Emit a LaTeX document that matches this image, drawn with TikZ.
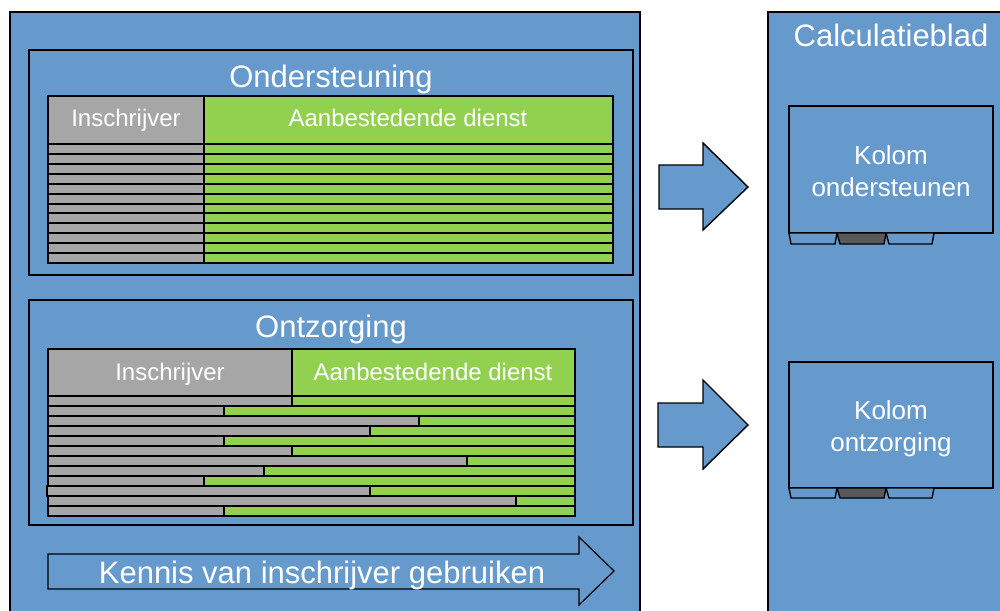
\documentclass[tikz,border=0pt]{standalone}
\usepackage{fontspec}
\setmainfont{Liberation Sans}
\usepackage{tikz}

\definecolor{vakblauw}{HTML}{6699CC}
\definecolor{vakgrijs}{HTML}{A6A6A6}
\definecolor{vakgroen}{HTML}{92D050}
\definecolor{tabgrijs}{HTML}{595959}

\tikzset{
  kader/.style={fill=vakblauw,draw=black,line width=1.4pt},
  cel/.style={draw=black,line width=1.25pt},
  titel/.style={text=white,font=\fontsize{31}{36}\selectfont,anchor=base},
  kop/.style={text=white,font=\fontsize{24}{28}\selectfont,anchor=base},
  kolom/.style={text=white,font=\fontsize{26}{32}\selectfont,anchor=base}
}

\begin{document}
\begin{tikzpicture}[x=1pt,y=-1pt]
\useasboundingbox (0,0) rectangle (1000,610);

\filldraw[kader] (10,12) rectangle (640,625);
\filldraw[kader] (768,12) rectangle (1010,625);

\filldraw[kader] (29,50) rectangle (633,275);
\filldraw[kader] (29,300) rectangle (633,525);

\node[titel] (ond) at (331,87) {Ondersteuning};
\node[titel] (ontz) at (331,337) {Ontzorging};
\node[titel] (calc) at (891,47) {Calculatieblad};

% tabel ondersteuning
\filldraw[cel,fill=vakgrijs] (48,96) rectangle (204,144);
\filldraw[cel,fill=vakgroen] (204,96) rectangle (613,144);
\node[kop] (ins1) at (126,126) {Inschrijver};
\node[kop] (aan1) at (408,126) {Aanbestedende dienst};

\filldraw[cel,fill=vakgrijs] (48,144) rectangle (204,154);
\filldraw[cel,fill=vakgroen] (204,144) rectangle (613,154);
\filldraw[cel,fill=vakgrijs] (48,154) rectangle (204,164);
\filldraw[cel,fill=vakgroen] (204,154) rectangle (613,164);
\filldraw[cel,fill=vakgrijs] (48,164) rectangle (204,174);
\filldraw[cel,fill=vakgroen] (204,164) rectangle (613,174);
\filldraw[cel,fill=vakgrijs] (48,174) rectangle (204,184);
\filldraw[cel,fill=vakgroen] (204,174) rectangle (613,184);
\filldraw[cel,fill=vakgrijs] (48,184) rectangle (204,194);
\filldraw[cel,fill=vakgroen] (204,184) rectangle (613,194);
\filldraw[cel,fill=vakgrijs] (48,194) rectangle (204,204);
\filldraw[cel,fill=vakgroen] (204,194) rectangle (613,204);
\filldraw[cel,fill=vakgrijs] (48,204) rectangle (204,213);
\filldraw[cel,fill=vakgroen] (204,204) rectangle (613,213);
\filldraw[cel,fill=vakgrijs] (48,213) rectangle (204,223);
\filldraw[cel,fill=vakgroen] (204,213) rectangle (613,223);
\filldraw[cel,fill=vakgrijs] (48,223) rectangle (204,233);
\filldraw[cel,fill=vakgroen] (204,223) rectangle (613,233);
\filldraw[cel,fill=vakgrijs] (48,233) rectangle (204,243);
\filldraw[cel,fill=vakgroen] (204,233) rectangle (613,243);
\filldraw[cel,fill=vakgrijs] (48,243) rectangle (204,253);
\filldraw[cel,fill=vakgroen] (204,243) rectangle (613,253);
\filldraw[cel,fill=vakgrijs] (48,253) rectangle (204,263);
\filldraw[cel,fill=vakgroen] (204,253) rectangle (613,263);

% tabel ontzorging
\filldraw[cel,fill=vakgrijs] (48,349) rectangle (292,396);
\filldraw[cel,fill=vakgroen] (292,349) rectangle (575,396);
\node[kop] (ins2) at (170,380) {Inschrijver};
\node[kop] (aan2) at (433,380) {Aanbestedende dienst};

\filldraw[cel,fill=vakgrijs] (48,396) rectangle (292,406);
\filldraw[cel,fill=vakgroen] (292,396) rectangle (575,406);
\filldraw[cel,fill=vakgrijs] (48,406) rectangle (224,416);
\filldraw[cel,fill=vakgroen] (224,406) rectangle (575,416);
\filldraw[cel,fill=vakgrijs] (48,416) rectangle (419,426);
\filldraw[cel,fill=vakgroen] (419,416) rectangle (575,426);
\filldraw[cel,fill=vakgrijs] (48,426) rectangle (370,436);
\filldraw[cel,fill=vakgroen] (370,426) rectangle (575,436);
\filldraw[cel,fill=vakgrijs] (48,436) rectangle (224,446);
\filldraw[cel,fill=vakgroen] (224,436) rectangle (575,446);
\filldraw[cel,fill=vakgrijs] (48,446) rectangle (292,456);
\filldraw[cel,fill=vakgroen] (292,446) rectangle (575,456);
\filldraw[cel,fill=vakgrijs] (48,456) rectangle (467,466);
\filldraw[cel,fill=vakgroen] (467,456) rectangle (575,466);
\filldraw[cel,fill=vakgrijs] (48,466) rectangle (264,476);
\filldraw[cel,fill=vakgroen] (264,466) rectangle (575,476);
\filldraw[cel,fill=vakgrijs] (48,476) rectangle (204,486);
\filldraw[cel,fill=vakgroen] (204,476) rectangle (575,486);
\filldraw[cel,fill=vakgrijs] (47,486) rectangle (370,496);
\filldraw[cel,fill=vakgroen] (370,486) rectangle (575,496);
\filldraw[cel,fill=vakgrijs] (48,496) rectangle (516,506);
\filldraw[cel,fill=vakgroen] (516,496) rectangle (575,506);
\filldraw[cel,fill=vakgrijs] (48,506) rectangle (224,516);
\filldraw[cel,fill=vakgroen] (224,506) rectangle (575,516);

% pijl onderaan
\filldraw[kader,line width=1.2pt] (48,554) -- (579,554) -- (579,537) -- (614,571) -- (579,605) -- (579,589) -- (48,589) -- cycle;
\node[titel] (kennis) at (322,583) {Kennis van inschrijver gebruiken};

% pijlen naar calculatieblad
\filldraw[kader] (659,165) -- (703,165) -- (703,143) -- (748,187) -- (703,230) -- (703,209) -- (659,209) -- cycle;
\filldraw[kader] (658,403) -- (703,403) -- (703,380) -- (748,425) -- (703,469) -- (703,447) -- (658,447) -- cycle;

% kolommen
\filldraw[kader] (789,106) rectangle (993,233);
\filldraw[kader] (789,233) -- (837,233) -- (835,244) -- (791,244) -- cycle;
\filldraw[kader,fill=tabgrijs] (837,233) -- (886,233) -- (884,244) -- (840,244) -- cycle;
\filldraw[kader] (886,233) -- (934,233) -- (932,244) -- (889,244) -- cycle;
\node[kolom] (kol1a) at (891,164) {Kolom};
\node[kolom] (kol1b) at (891,196) {ondersteunen};

\filldraw[kader] (789,362) rectangle (993,488);
\filldraw[kader] (789,488) -- (837,488) -- (835,498) -- (791,498) -- cycle;
\filldraw[kader,fill=tabgrijs] (837,488) -- (886,488) -- (884,498) -- (840,498) -- cycle;
\filldraw[kader] (886,488) -- (934,488) -- (932,498) -- (889,498) -- cycle;
\node[kolom] (kol2a) at (891,419) {Kolom};
\node[kolom] (kol2b) at (891,451) {ontzorging};
\end{tikzpicture}
\end{document}
